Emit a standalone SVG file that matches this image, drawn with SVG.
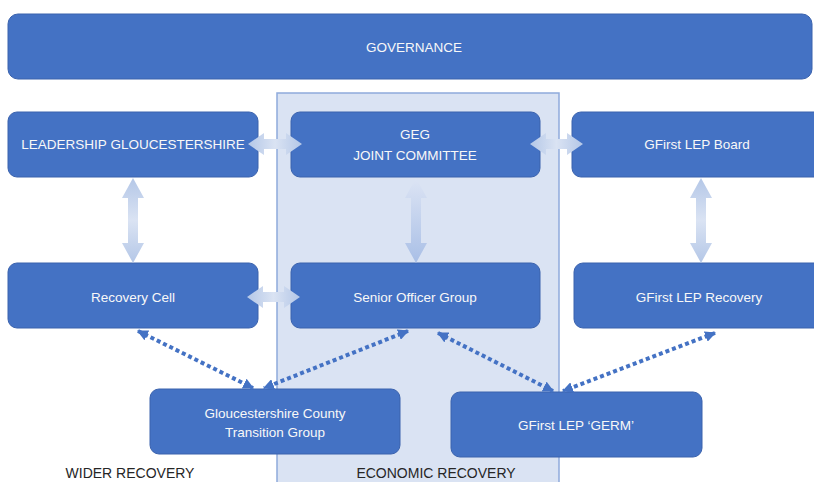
<svg xmlns="http://www.w3.org/2000/svg" width="814" height="482" viewBox="0 0 814 482">
  <style>
    .box { fill: #4472C4; stroke: #3A62AD; stroke-width: 1; }
    .lbl { font-family: "Liberation Sans", Arial, sans-serif; font-size: 13.5px; fill: #F8F8F8; text-anchor: middle; }
    .zone { font-family: "Liberation Sans", Arial, sans-serif; font-size: 14px; fill: #262626; text-anchor: middle; }
    .dot { fill: none; stroke: #4472C4; stroke-width: 4; stroke-dasharray: 4 3; marker-start: url(#tri); marker-end: url(#tri); }
  </style>
  <defs>
    <linearGradient id="gv" x1="0" y1="0" x2="0" y2="1">
      <stop offset="0" stop-color="#B4C7E7"/>
      <stop offset="0.5" stop-color="#DAE3F3"/>
      <stop offset="1" stop-color="#B4C7E7"/>
    </linearGradient>
    <linearGradient id="gh" x1="0" y1="0" x2="1" y2="0">
      <stop offset="0" stop-color="#B4C7E7"/>
      <stop offset="0.5" stop-color="#DAE3F3"/>
      <stop offset="1" stop-color="#B4C7E7"/>
    </linearGradient>
    <linearGradient id="gfade" x1="0" y1="0" x2="0" y2="1">
      <stop offset="0" stop-color="#DCE4F4"/>
      <stop offset="1" stop-color="#A9BFE6"/>
    </linearGradient>
    <marker id="tri" viewBox="0 0 10 10" refX="9" refY="5" markerWidth="11" markerHeight="11" markerUnits="userSpaceOnUse" orient="auto-start-reverse">
      <path d="M0,0 L10,5 L0,10 Z" fill="#4472C4"/>
    </marker>
  </defs>

  <!-- economic recovery band -->
  <rect x="277" y="93" width="282" height="400" fill="#DAE3F3" stroke="#8FAADC" stroke-width="1.5"/>

  <g id="governance">
    <rect class="box" x="8" y="14" width="804" height="65" rx="10"/>
    <text class="lbl" x="414" y="52">GOVERNANCE</text>
  </g>

  <g id="leadership-gloucestershire">
    <rect class="box" x="8" y="112" width="250" height="65" rx="9"/>
    <text class="lbl" x="133" y="149">LEADERSHIP GLOUCESTERSHIRE</text>
  </g>

  <g id="geg-joint-committee">
    <rect class="box" x="291" y="112" width="249" height="65" rx="9"/>
    <text class="lbl" x="415" y="139">GEG</text>
    <text class="lbl" x="415" y="160">JOINT COMMITTEE</text>
  </g>

  <g id="gfirst-lep-board">
    <rect class="box" x="572" y="112" width="252" height="65" rx="9"/>
    <text class="lbl" x="697" y="149">GFirst LEP Board</text>
  </g>

  <g id="recovery-cell">
    <rect class="box" x="8" y="263" width="250" height="65" rx="9"/>
    <text class="lbl" x="133" y="302">Recovery Cell</text>
  </g>

  <g id="senior-officer-group">
    <rect class="box" x="291" y="263" width="249" height="65" rx="9"/>
    <text class="lbl" x="415" y="302">Senior Officer Group</text>
  </g>

  <g id="gfirst-lep-recovery">
    <rect class="box" x="574" y="263" width="250" height="65" rx="9"/>
    <text class="lbl" x="699" y="302">GFirst LEP Recovery</text>
  </g>

  <g id="county-transition-group">
    <rect class="box" x="150" y="389" width="250" height="65" rx="9"/>
    <text class="lbl" x="275" y="418">Gloucestershire County</text>
    <text class="lbl" x="275" y="437">Transition Group</text>
  </g>

  <g id="gfirst-lep-germ">
    <rect class="box" x="451" y="392" width="251" height="65" rx="9"/>
    <text class="lbl" x="576" y="430">GFirst LEP ‘GERM’</text>
  </g>

  <g id="connectors">
    <!-- block double arrows -->
    <path fill="url(#gv)" d="M133,178 L144,198 L138,198 L138,243 L144,243 L133,263 L122,243 L128,243 L128,198 L122,198 Z"/>
    <path fill="url(#gfade)" d="M416,178 L427,198 L421,198 L421,243 L427,243 L416,263 L405,243 L411,243 L411,198 L405,198 Z"/>
    <path fill="url(#gv)" d="M701,178 L712,198 L706,198 L706,243 L712,243 L701,263 L690,243 L696,243 L696,198 L690,198 Z"/>
    <path fill="url(#gh)" d="M248,144 L264,133 L264,139 L286,139 L286,133 L302,144 L286,155 L286,149 L264,149 L264,155 Z"/>
    <path fill="url(#gh)" d="M530,144 L546,133 L546,139 L567,139 L567,133 L583,144 L567,155 L567,149 L546,149 L546,155 Z"/>
    <path fill="url(#gh)" d="M247,297 L263,286 L263,292 L284,292 L284,286 L300,297 L284,308 L284,302 L263,302 L263,308 Z"/>
    <!-- dotted links -->
    <line class="dot" x1="138" y1="331" x2="253" y2="388"/>
    <line class="dot" x1="408" y1="331" x2="264" y2="388"/>
    <line class="dot" x1="438" y1="333" x2="553" y2="391"/>
    <line class="dot" x1="715" y1="333" x2="563" y2="391"/>
  </g>

  <text class="zone" x="130" y="478">WIDER RECOVERY</text>
  <text class="zone" x="436" y="478">ECONOMIC RECOVERY</text>
</svg>
